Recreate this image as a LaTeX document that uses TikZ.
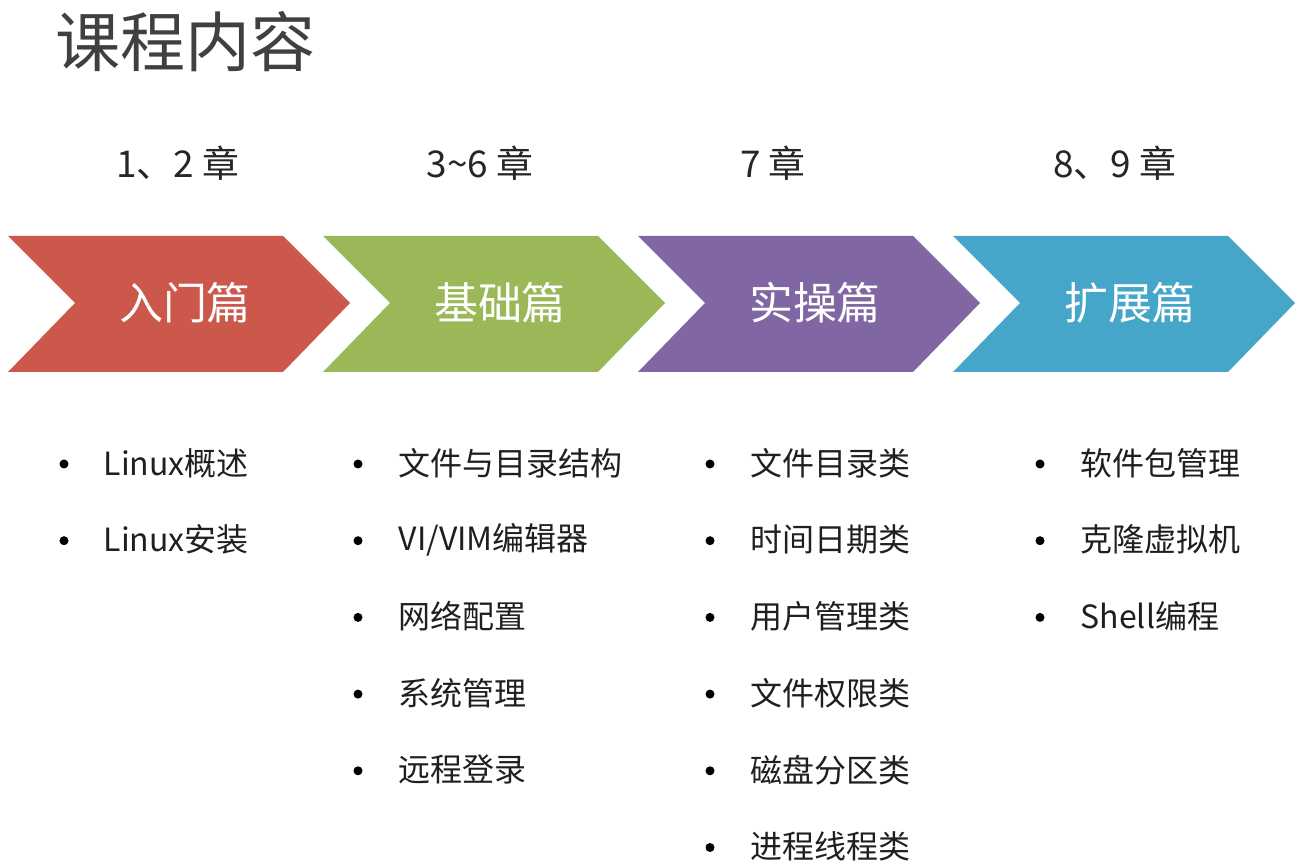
\documentclass[tikz,border=0pt]{standalone}
\usepackage{fontspec}
\setmainfont{Noto Sans CJK SC}
\usepackage{xcolor}
\usepackage{tikz}
\usetikzlibrary{positioning}
\definecolor{partred}{RGB}{203, 88, 75}
\definecolor{partgreen}{RGB}{155, 184, 88}
\definecolor{partpurple}{RGB}{128, 102, 162}
\definecolor{partblue}{RGB}{70, 166, 202}
\definecolor{titlegray}{RGB}{64, 64, 64}

\begin{document}
\begin{tikzpicture}[x=0.01cm, y=-0.01cm,
		partlabel/.style={text=white, font=\fontsize{12.5}{14}\selectfont},
		chapter/.style={text=black!85, font=\fontsize{10.5}{12}\selectfont},
		item/.style={anchor=west, inner sep=0pt, text=black!88, font=\fontsize{9.1}{11}\selectfont},
		dot/.style={circle, fill=black, inner sep=0pt, minimum size=0.09cm}
	]
	\useasboundingbox (0,0) rectangle (1300,865);

	% Title
	\node[anchor=west, inner sep=0pt, text=titlegray, font=\fontsize{18.5}{20}\selectfont] (title) at (55,42) {课程内容};

	% Chevrons and chapters
	\foreach \i/\col/\txt/\chap/\cx in {0/partred/入门篇/{1、2 章}/178, 1/partgreen/基础篇/{3\textasciitilde 6 章}/480, 2/partpurple/实操篇/{7 章}/773, 3/partblue/扩展篇/{8、9 章}/1115} {
		\fill[\col] (8+315*\i,236) -- ++(275,0) -- ++(67,67) -- ++(-67,69) -- ++(-275,0) -- ++(67,-69) -- cycle;
		\node[partlabel] (part\i) at (185+315*\i,303) {\txt};
		\node[chapter] (chap\i) at (\cx,163) {\chap};
	}

	% Lists
	\foreach \t [count=\k] in {Linux概述, Linux安装} {
		\node[dot] (introdot\k) at (64,464+76.7*\k-76.7) {};
		\node[item] (intro\k) at (103,463+76.7*\k-76.7) {\t};
	}
	\foreach \t [count=\k] in {文件与目录结构, VI/VIM编辑器, 网络配置, 系统管理, 远程登录} {
		\node[dot] (basedot\k) at (358,464+76.7*\k-76.7) {};
		\node[item] (base\k) at (398,463+76.7*\k-76.7) {\t};
	}
	\foreach \t [count=\k] in {文件目录类, 时间日期类, 用户管理类, 文件权限类, 磁盘分区类, 进程线程类} {
		\node[dot] (practdot\k) at (710,464+76.7*\k-76.7) {};
		\node[item] (pract\k) at (750,463+76.7*\k-76.7) {\t};
	}
	\foreach \t [count=\k] in {软件包管理, 克隆虚拟机, Shell编程} {
		\node[dot] (extdot\k) at (1040,464+76.7*\k-76.7) {};
		\node[item] (ext\k) at (1080,463+76.7*\k-76.7) {\t};
	}
\end{tikzpicture}
\end{document}
